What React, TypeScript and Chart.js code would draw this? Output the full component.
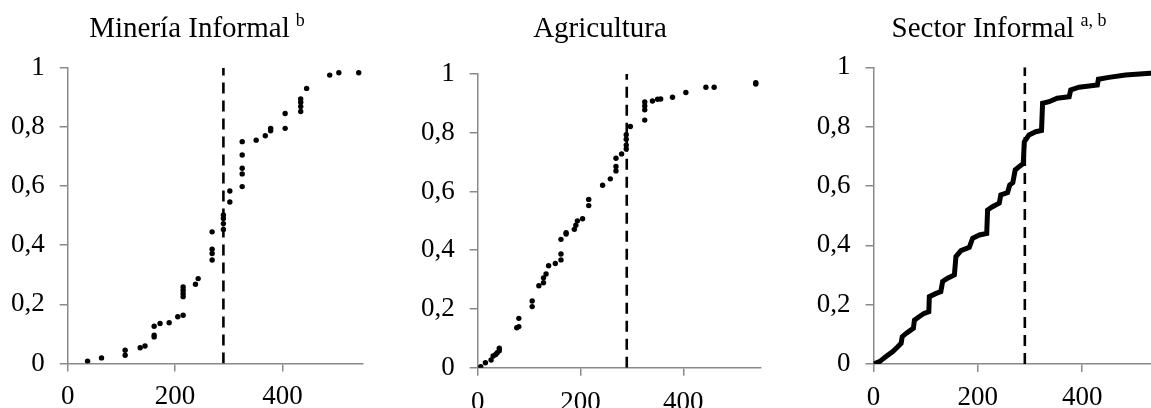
import React, { useEffect, useRef } from "react";
import { Chart, registerables } from "chart.js";

Chart.register(...registerables);

// ---------- Data ----------
const mineriaX = [37, 63, 107, 107, 135, 144, 161, 161, 161, 172, 189, 205, 215, 215, 215, 215, 215, 238, 243, 269, 269, 269, 269, 290, 290, 290, 290, 302, 302, 325, 325, 325, 325, 325, 351, 368, 378, 378, 405, 405, 434, 434, 434, 434, 445, 488, 505, 542];
const mineriaY = [0.008, 0.019, 0.028, 0.045, 0.053, 0.059, 0.090, 0.096, 0.126, 0.135, 0.138, 0.158, 0.163, 0.226, 0.237, 0.248, 0.259, 0.268, 0.287, 0.350, 0.372, 0.386, 0.445, 0.453, 0.473, 0.490, 0.502, 0.546, 0.583, 0.598, 0.641, 0.660, 0.705, 0.750, 0.755, 0.770, 0.787, 0.795, 0.795, 0.845, 0.852, 0.869, 0.883, 0.894, 0.930, 0.975, 0.983, 0.983];

const agriX = [6, 15, 26, 30, 35, 38, 42, 42, 76, 80, 80, 106, 106, 119, 128, 128, 133, 138, 151, 162, 162, 162, 172, 172, 188, 191, 194, 204, 216, 216, 243, 258, 269, 269, 269, 280, 289, 289, 289, 289, 297, 325, 325, 325, 325, 340, 350, 356, 379, 405, 444, 460, 541, 541];
const agriY = [0.003, 0.017, 0.026, 0.040, 0.045, 0.051, 0.058, 0.066, 0.136, 0.140, 0.168, 0.208, 0.227, 0.279, 0.289, 0.306, 0.319, 0.347, 0.355, 0.367, 0.387, 0.437, 0.455, 0.460, 0.471, 0.485, 0.500, 0.507, 0.552, 0.573, 0.621, 0.643, 0.670, 0.685, 0.713, 0.728, 0.745, 0.758, 0.778, 0.793, 0.821, 0.843, 0.878, 0.891, 0.905, 0.908, 0.914, 0.915, 0.921, 0.937, 0.955, 0.955, 0.966, 0.970];

const sectorX = [0, 11.5, 24, 37, 46.5, 53, 55, 62.5, 72, 76.5, 78.4, 88, 97.5, 106, 107, 120, 129, 132.5, 142, 155, 158, 167.6, 183.6, 190, 203, 217, 218.6, 228, 241, 244, 257, 261, 267, 271.5, 279, 287, 289, 298, 311, 322, 324, 336.5, 352, 375, 378, 394, 429, 431, 451, 483, 530, 548];
const sectorY = [0, 0.008, 0.025, 0.042, 0.058, 0.07, 0.092, 0.103, 0.115, 0.12, 0.148, 0.16, 0.171, 0.176, 0.227, 0.238, 0.244, 0.278, 0.289, 0.3, 0.362, 0.382, 0.393, 0.424, 0.435, 0.44, 0.519, 0.53, 0.542, 0.57, 0.578, 0.603, 0.611, 0.654, 0.665, 0.676, 0.749, 0.772, 0.783, 0.787, 0.879, 0.884, 0.896, 0.901, 0.924, 0.933, 0.94, 0.96, 0.966, 0.974, 0.98, 0.982];

const thresholdX = [290, 290];
const thresholdY = [0, 1];

const xTickValues = [0, 200, 400];
const xMax = 550;
const yTickStep = 0.2;

const titles = [
  { text: "Minería Informal", sup: "b" },
  { text: "Agricultura", sup: "" },
  { text: "Sector Informal", sup: "a, b" },
];

// ---------- Helpers ----------
const FONT = '"Liberation Serif", "Times New Roman", serif';
const AXIS_GRAY = "#8a8a8a";

const toPoints = (xs: number[], ys: number[]) => xs.map((x, i) => ({ x, y: ys[i] }));

const titlePlugin = {
  id: "panelTitle",
  afterDraw(chart: any, _args: any, opts: any) {
    const ctx = chart.ctx;
    ctx.save();
    ctx.fillStyle = "#000";
    ctx.textBaseline = "alphabetic";
    ctx.textAlign = "left";
    const mainFont = `${opts.size}px ${FONT}`;
    const supFont = `${opts.supSize}px ${FONT}`;
    ctx.font = mainFont;
    const w = ctx.measureText(opts.text).width;
    let sw = 0;
    if (opts.sup) {
      ctx.font = supFont;
      sw = ctx.measureText(opts.sup).width + opts.gap;
    }
    const start = opts.x - (w + sw) / 2;
    ctx.font = mainFont;
    ctx.fillText(opts.text, start, opts.y);
    if (opts.sup) {
      ctx.font = supFont;
      ctx.fillText(opts.sup, start + w + opts.gap, opts.y - opts.rise);
    }
    ctx.restore();
  },
};

interface PanelLayout {
  left: number;
  width: number;
  axisLeft: number;
  top: number;
  bottom: number;
  right: number;
  titleX: number;
  xPad: number;
}

const layouts: PanelLayout[] = [
  { left: 0, width: 380, axisLeft: 67.7, top: 67.7, bottom: 363.5, right: 17, titleX: 197, xPad: 9.5 },
  { left: 380, width: 390, axisLeft: 97.7, top: 74, bottom: 367.7, right: 9.6, titleX: 220, xPad: 11 },
  { left: 770, width: 400, axisLeft: 103.5, top: 67.3, bottom: 364, right: 9.5, titleX: 229, xPad: 9.5 },
];

function buildConfig(idx: number): any {
  const L = layouts[idx];
  const H = 408;
  const datasets: any[] = [];
  if (idx === 0) {
    datasets.push({ type: "scatter", data: toPoints(mineriaX, mineriaY), backgroundColor: "#000", borderWidth: 0, pointRadius: 2.7, order: 1 });
  } else if (idx === 1) {
    datasets.push({ type: "scatter", data: toPoints(agriX, agriY), backgroundColor: "#000", borderWidth: 0, pointRadius: 2.7, order: 1 });
  } else {
    datasets.push({ type: "line", data: toPoints(sectorX, sectorY), borderColor: "#000", borderWidth: 5, pointRadius: 0, tension: 0, fill: false, borderJoinStyle: "miter", order: 1 });
  }
  datasets.push({
    type: "line",
    data: toPoints(thresholdX, thresholdY),
    borderColor: "#000",
    borderWidth: 2.6,
    borderDash: [11, 7],
    pointRadius: 0,
    fill: false,
    order: 0,
  });

  return {
    type: "scatter",
    data: { datasets },
    plugins: [titlePlugin],
    options: {
      responsive: false,
      animation: false,
      devicePixelRatio: 1,
      layout: { padding: { top: L.top, right: L.right, left: 0, bottom: 0 } },
      plugins: {
        legend: { display: false },
        tooltip: { enabled: false },
        title: { display: false },
        panelTitle: {
          text: titles[idx].text,
          sup: titles[idx].sup,
          x: L.titleX,
          y: 37,
          size: 29,
          supSize: 18,
          gap: 6,
          rise: 11,
        },
      },
      scales: {
        x: {
          type: "linear",
          min: 0,
          max: xMax,
          afterBuildTicks: (s: any) => {
            s.ticks = xTickValues.map((v) => ({ value: v }));
          },
          afterFit: (s: any) => {
            s.height = H - L.bottom;
          },
          grid: { display: true, drawOnChartArea: false, drawTicks: true, tickLength: 8, color: AXIS_GRAY, lineWidth: 1.5 },
          border: { display: true, color: AXIS_GRAY, width: 1.5 },
          ticks: { color: "#000", font: { family: FONT, size: 27 }, padding: L.xPad, maxRotation: 0, autoSkip: false },
        },
        y: {
          type: "linear",
          min: 0,
          max: 1,
          afterFit: (s: any) => {
            s.width = L.axisLeft;
          },
          grid: { display: true, drawOnChartArea: false, drawTicks: true, tickLength: 8, color: AXIS_GRAY, lineWidth: 1.5 },
          border: { display: true, color: AXIS_GRAY, width: 1.5 },
          ticks: {
            stepSize: yTickStep,
            color: "#000",
            font: { family: FONT, size: 27 },
            padding: 15,
            callback: (v: any) => String(Math.round(Number(v) * 10) / 10).replace(".", ","),
          },
        },
      },
    },
  };
}

function Panel({ idx }: { idx: number }) {
  const ref = useRef<HTMLCanvasElement | null>(null);
  const L = layouts[idx];
  useEffect(() => {
    if (!ref.current) return;
    const chart = new Chart(ref.current, buildConfig(idx));
    return () => chart.destroy();
  }, [idx]);
  return (
    <canvas
      ref={ref}
      width={L.width}
      height={408}
      style={{ position: "absolute", left: L.left, top: 0, width: L.width, height: 408 }}
    />
  );
}

export default function App() {
  return (
    <div
      style={{
        position: "fixed",
        left: 0,
        top: 0,
        width: 1151,
        height: 408,
        overflow: "hidden",
        background: "#fff",
      }}
    >
      <Panel idx={0} />
      <Panel idx={1} />
      <Panel idx={2} />
    </div>
  );
}
